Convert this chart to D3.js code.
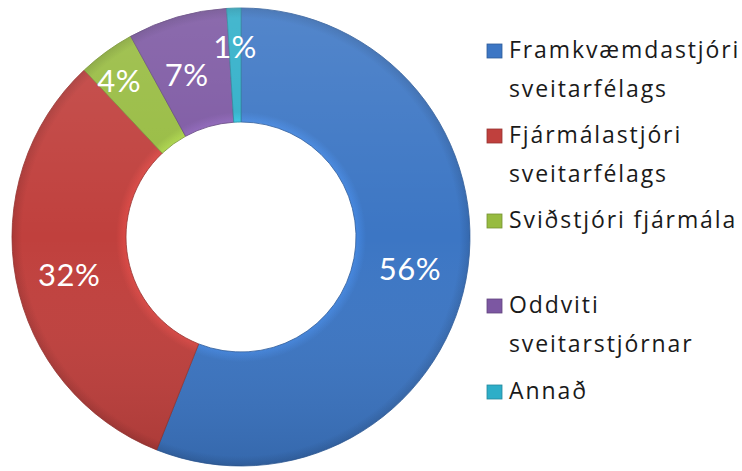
<!DOCTYPE html>
<html><head><meta charset="utf-8">
<script src="https://cdn.jsdelivr.net/npm/d3@7"></script>
<style>body{margin:0;background:#fff}svg{display:block}</style>
</head><body>
<svg id="c" width="742" height="471"></svg>
<script>
const categories = ["Framkvæmdastjóri sveitarfélags","Fjármálastjóri sveitarfélags","Sviðstjóri fjármála","Oddviti sveitarstjórnar","Annað"];
const legendLines = [["Framkvæmdastjóri","sveitarfélags"],["Fjármálastjóri","sveitarfélags"],["Sviðstjóri fjármála"],["Oddviti","sveitarstjórnar"],["Annað"]];
const values = [56,32,4,7,1];
const labels = ["56%","32%","4%","7%","1%"];
const colors = ["#3c76c4","#c0403d","#97bb40","#7c57a2","#2daec8"];

// layout
const labelRadius = [172,176,198,171,190];
const labelAngleShift = [0,-0.03,-0.035,-0.04,0];

const svg = d3.select("#c");
const cx = 241, cy = 237, R = 229, r = 115;
const defs = svg.append("defs");
colors.forEach((c,i)=>{
  const g = defs.append("radialGradient").attr("id","g"+i).attr("gradientUnits","userSpaceOnUse")
    .attr("cx",0).attr("cy",0).attr("r",R);
  g.append("stop").attr("offset",r/R).attr("stop-color",d3.color(c).brighter(0.35));
  g.append("stop").attr("offset",(r+10)/R).attr("stop-color",c);
  g.append("stop").attr("offset",(R-10)/R).attr("stop-color",c);
  g.append("stop").attr("offset",1).attr("stop-color",d3.color(c).darker(0.35));
});
const lin = defs.append("linearGradient").attr("id","shade")
  .attr("gradientUnits","userSpaceOnUse").attr("x1",0).attr("y1",-R).attr("x2",0).attr("y2",R);
lin.append("stop").attr("offset",0).attr("stop-color","#fff").attr("stop-opacity",0.12);
lin.append("stop").attr("offset",0.5).attr("stop-color","#fff").attr("stop-opacity",0);
lin.append("stop").attr("offset",1).attr("stop-color","#000").attr("stop-opacity",0.12);

const pie = d3.pie().sort(null).value(d=>d);
const arc = d3.arc().innerRadius(r).outerRadius(R);
const g = svg.append("g").attr("transform",`translate(${cx},${cy})`);
const arcs = pie(values);
g.selectAll("path.s").data(arcs).join("path").attr("class","s")
  .attr("d",arc).attr("fill",(d,i)=>`url(#g${i})`)
  .attr("stroke",(d,i)=>d3.color(colors[i]).darker(0.7)).attr("stroke-width",0.8);
g.selectAll("path.o").data(arcs).join("path").attr("class","o")
  .attr("d",arc).attr("fill","url(#shade)");
g.selectAll("text").data(arcs).join("text")
  .attr("transform",(d,i)=>{
    const a = (d.startAngle+d.endAngle)/2 + labelAngleShift[i];
    return `translate(${Math.sin(a)*labelRadius[i]},${-Math.cos(a)*labelRadius[i]})`;
  })
  .attr("text-anchor","middle").attr("dy","0.36em")
  .attr("fill","#fff").attr("font-family","Lato, 'Open Sans', sans-serif").attr("font-size",31)
  .attr("letter-spacing",0.5)
  .text((d,i)=>labels[i]);

const legY = [51,136,221,306,392];
const leg = svg.append("g");
legendLines.forEach((lines,i)=>{
  leg.append("rect").attr("x",487).attr("y",legY[i]-7).attr("width",15).attr("height",14)
    .attr("fill",colors[i]).attr("stroke",d3.color(colors[i]).darker(0.7)).attr("stroke-width",0.8);
  lines.forEach((t,j)=>{
    leg.append("text").attr("x",509).attr("y",legY[i]+7+j*39)
      .attr("font-family","'Open Sans', sans-serif").attr("font-size",23).attr("letter-spacing",1.9)
      .attr("fill","#1a1a1a").text(t);
  });
});
</script>
</body></html>
